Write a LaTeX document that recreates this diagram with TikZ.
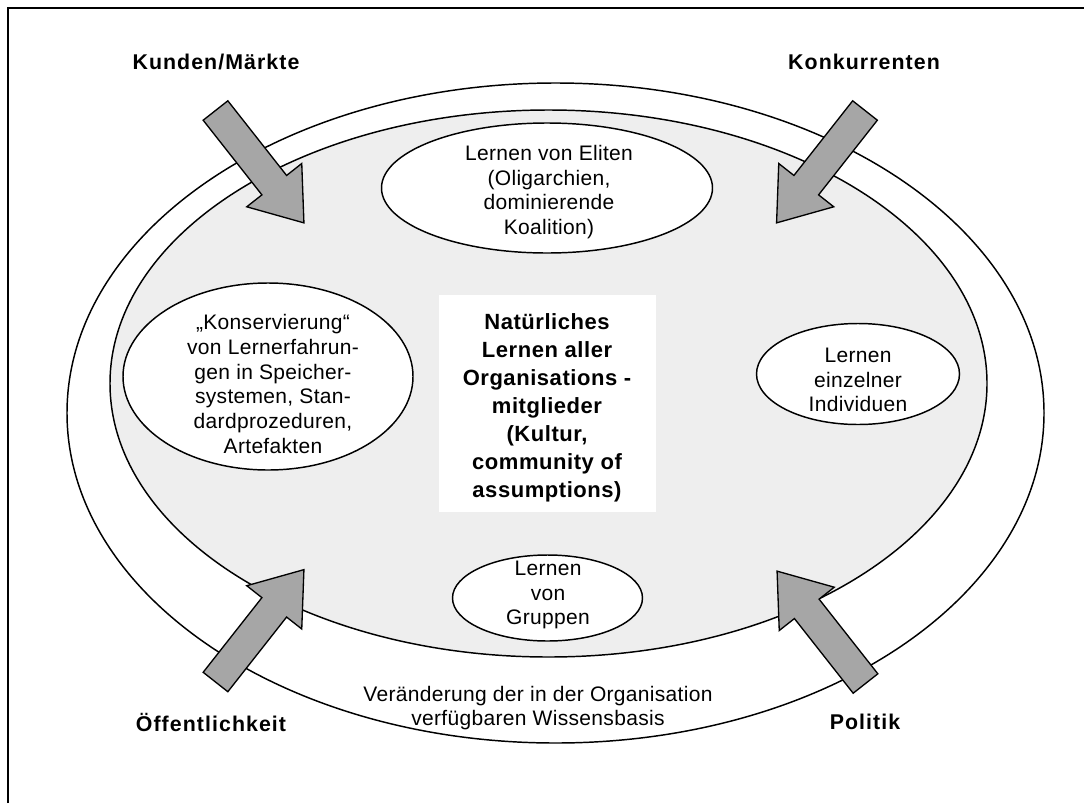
\documentclass[tikz,border=0pt]{standalone}
\usepackage{fontspec}
\setmainfont{Liberation Sans}[LetterSpace=1.5]
\newfontfamily\headfont{Liberation Sans}[LetterSpace=5]
\newfontfamily\corefont{Liberation Sans}[LetterSpace=2.5]
\usetikzlibrary{shapes.geometric}
\definecolor{ringgray}{HTML}{EEEEEE}
\definecolor{forcegray}{HTML}{A6A6A6}

\tikzset{
  ring/.style={draw, ellipse, line width=1.1pt, inner sep=0pt},
  spot/.style={draw, ellipse, fill=white, line width=1.1pt, inner sep=0pt},
  body/.style={align=center, inner sep=0pt,
    font=\fontsize{15.75}{18.5}\selectfont},
  corebody/.style={align=center, inner sep=0pt,
    font=\corefont\bfseries\fontsize{16.5}{21}\selectfont},
  force/.style={font=\headfont\bfseries\fontsize{16}{19}\selectfont},
  forceshape/.style={draw, fill=forcegray, line width=1pt, line join=miter},
  pics/influx/.style={code={
    \draw[forceshape] (0,-15.7) -- (95,-15.7) -- (95,-35) -- (143,0)
      -- (95,35) -- (95,15.7) -- (0,15.7) -- cycle;
  }}
}

\begin{document}
\begin{tikzpicture}[x=0.75pt, y=-0.75pt]
\useasboundingbox (0,0) rectangle (1084,803);
\fill[white] (0,0) rectangle (1084,803);

% frame
\draw[line width=1.5pt] (8,803) -- (8,8) -- (1084,8);

% rings of the organisation
\node[ring, fill=white, minimum width=732.75pt, minimum height=495pt]
  (outer) at (555.5,413) {};
\node[ring, fill=ringgray, minimum width=657.75pt, minimum height=410.25pt]
  (inner) at (548.5,383.5) {};

% learning carriers
\node[spot, minimum width=248.25pt, minimum height=97.5pt] (eliten) at (547,188) {};
\node[body] (elitentxt) at (549,192)
  {Lernen von Eliten\\(Oligarchien,\\dominierende\\Koalition)};

\node[spot, minimum width=217.5pt, minimum height=140.25pt] (konserv) at (268,376.5) {};
\node[body] (konservtxt) at (273,384)
  {„Konservierung“\\von Lernerfahrun-\\gen in Speicher-\\systemen, Stan-\\dardprozeduren,\\Artefakten};

\node[spot, minimum width=152.25pt, minimum height=75.75pt] (indiv) at (858,374) {};
\node[body] (indivtxt) at (858,380) {Lernen\\einzelner\\Individuen};

\node[spot, minimum width=142.5pt, minimum height=64.5pt] (gruppen) at (547.5,598) {};
\node[body] (gruppentxt) at (548,595) {Lernen\\von\\Gruppen};

% core box
\node[fill=white, inner sep=0pt, minimum width=162.75pt, minimum height=162.75pt]
  (core) at (547.5,403.5) {};
\node[corebody] (coretxt) at (547,408)
  {Natürliches\\Lernen aller\\Organisations -\\mitglieder\\(Kultur,\\community of\\assumptions)};

% knowledge base
\node[body] (basis) at (538,708)
  {Veränderung der in der Organisation\\verfügbaren Wissensbasis};

% external forces
\pic[rotate=-51.8] at (215.5,110.5) {influx};
\pic[rotate=-128.2] at (865,110.5) {influx};
\pic[rotate=51.8] at (215.5,682) {influx};
\pic[rotate=128.2] at (865.5,683.5) {influx};

\node[force] (kunden) at (216,62) {Kunden/Märkte};
\node[force] (konk) at (864,62) {Konkurrenten};
\node[force] (oeff) at (211,722) {Öffentlichkeit};
\node[force] (politik) at (865,722) {Politik};
\end{tikzpicture}
\end{document}
